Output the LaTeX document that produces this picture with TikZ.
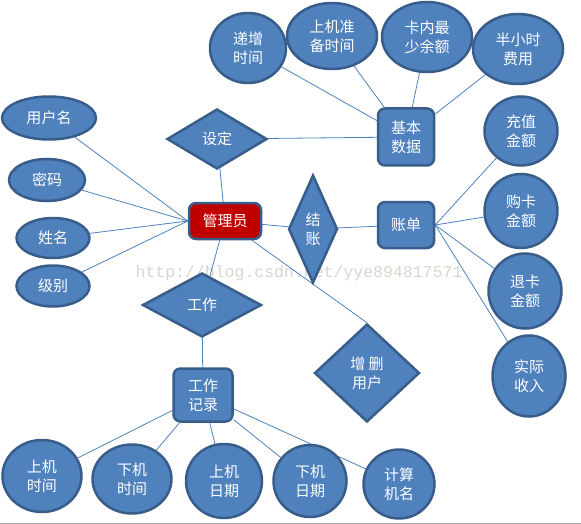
\documentclass[tikz,border=0pt]{standalone}
\usepackage{fontspec}
\usetikzlibrary{shapes.geometric,backgrounds}
\newfontfamily\cjk{Noto Sans CJK SC}
\newfontfamily\wmfont{Liberation Mono}
\definecolor{boxblue}{HTML}{4F81BD}
\definecolor{edgeblue}{HTML}{385D8A}
\definecolor{admred}{HTML}{C00000}
\definecolor{wmgray}{HTML}{D9D5CD}
\tikzset{
  base/.style={draw=edgeblue, fill=boxblue, line width=2.5pt, text=white, inner sep=0pt,
    align=center, font=\cjk\fontsize{15}{19}\selectfont},
  attr/.style={base, ellipse},
  rel/.style={base, diamond},
  ent/.style={base, rectangle, rounded corners=7pt},
  link/.style={boxblue, line width=0.8pt},
}
\begin{document}
\begin{tikzpicture}[x=1pt, y=-1pt]
    \useasboundingbox (0,0) rectangle (581,524);
    % basic data
    \node[attr, minimum width=76pt, minimum height=70pt] (inc) at (248,48) {递增\\时间};
    \node[attr, minimum width=90pt, minimum height=66pt] (prep) at (332,36) {上机准\\备时间};
    \node[attr, minimum width=90pt, minimum height=70pt] (minbal) at (427,37) {卡内最\\少余额};
    \node[attr, minimum width=90pt, minimum height=70pt] (halfhr) at (518,49) {半小时\\费用};
    \node[ent, minimum width=56pt, minimum height=57pt] (basic) at (406,137) {基本\\数据};
    \node[rel, minimum width=100pt, minimum height=60pt] (setting) at (217,139) {设定};
    % admin
    \node[attr, minimum width=94pt, minimum height=43pt] (user) at (49,118) {用户名};
    \node[attr, minimum width=76pt, minimum height=42pt] (pwd) at (47,180) {密码};
    \node[attr, minimum width=73pt, minimum height=40pt] (name) at (53,238) {姓名};
    \node[attr, minimum width=73pt, minimum height=41pt] (level) at (53,286) {级别};
    \node[ent, fill=admred, minimum width=72pt, minimum height=36pt] (admin) at (225,221) {管理员};
    % bill
    \node[rel, minimum width=49pt, minimum height=108pt] (checkout) at (313,229) {结\\账};
    \node[ent, minimum width=56pt, minimum height=46pt] (bill) at (406,225) {账单};
    \node[attr, minimum width=73pt, minimum height=69pt] (recharge) at (521,131) {充值\\金额};
    \node[attr, minimum width=73pt, minimum height=74pt] (buycard) at (521,211) {购卡\\金额};
    \node[attr, minimum width=73pt, minimum height=75pt] (refund) at (525,291) {退卡\\金额};
    \node[attr, minimum width=73pt, minimum height=81pt] (income) at (529,376) {实际\\收入};
    \node[rel, minimum width=105pt, minimum height=98pt] (adduser) at (367,373) {增 删\\用户};
    % work log
    \node[rel, minimum width=119pt, minimum height=64pt] (work) at (202,305) {工作};
    \node[ent, minimum width=59pt, minimum height=53pt] (worklog) at (203,395) {工作\\记录};
    \node[attr, minimum width=79pt, minimum height=72pt] (ontime) at (42,476) {上机\\时间};
    \node[attr, minimum width=79pt, minimum height=69pt] (offtime) at (132,479) {下机\\时间};
    \node[attr, minimum width=76pt, minimum height=74pt] (ondate) at (224,481) {上机\\日期};
    \node[attr, minimum width=73pt, minimum height=72pt] (offdate) at (310,481) {下机\\日期};
    \node[attr, minimum width=71pt, minimum height=69pt] (pcname) at (399,484) {计算\\机名};
    \begin{scope}[on background layer]
        \node[font=\wmfont\fontsize{16.5}{18}\selectfont, text=wmgray] (wm) at (299,273) {http://blog.csdn.net/yye894817571};
        \draw[link] (inc) -- (basic);
        \draw[link] (prep) -- (basic);
        \draw[link] (minbal) -- (basic);
        \draw[link] (halfhr) -- (basic);
        \draw[link] (setting) -- (basic);
        \draw[link] (setting) -- (admin);
        \draw[link] (user) -- (admin.west);
        \draw[link] (pwd) -- (admin.west);
        \draw[link] (name) -- (admin.west);
        \draw[link] (level) -- (admin.west);
        \draw[link] (admin) -- (checkout);
        \draw[link] (checkout) -- (bill);
        \draw[link] (bill.east) -- (recharge);
        \draw[link] (bill.east) -- (buycard);
        \draw[link] (bill.east) -- (refund);
        \draw[link] (bill.east) -- (income);
        \draw[link] (admin) -- (work);
        \draw[link] (admin) -- (adduser.north);
        \draw[link] (work) -- (worklog);
        \draw[link] (worklog) -- (ontime);
        \draw[link] (worklog) -- (offtime);
        \draw[link] (worklog) -- (ondate);
        \draw[link] (worklog) -- (offdate);
        \draw[link] (worklog) -- (pcname);
    \end{scope}
    \draw[gray!70, line width=1pt] (0,523) -- (581,523);
\end{tikzpicture}
\end{document}
